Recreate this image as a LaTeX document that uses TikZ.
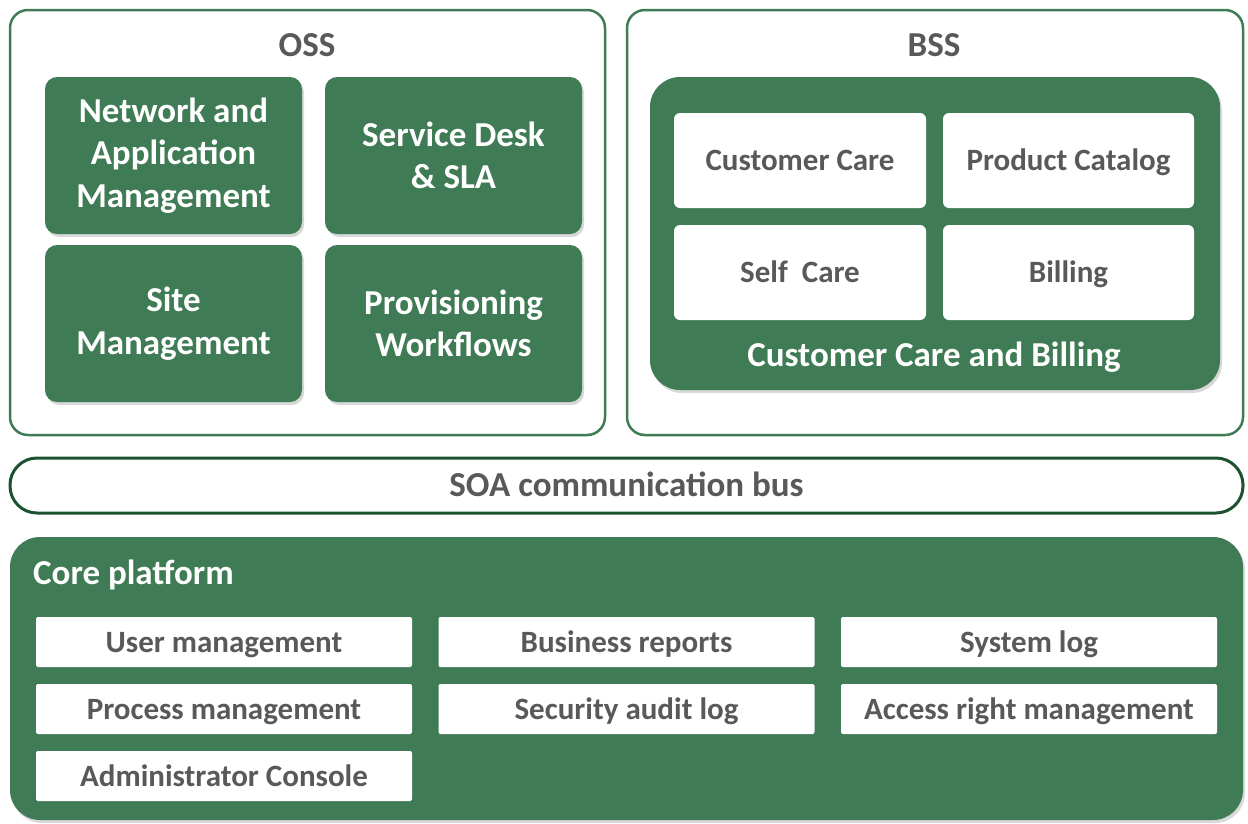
\documentclass[tikz,border=0pt]{standalone}
\usepackage{fontspec}
\setmainfont{Carlito}
\usetikzlibrary{shadows}
\definecolor{boxgreen}{RGB}{63,123,84}
\definecolor{busgreen}{RGB}{28,82,48}
\definecolor{txtgray}{RGB}{89,89,89}

\begin{document}
\begin{tikzpicture}
        [x=1pt,y=-1pt,inner sep=0pt,
         frame/.style={draw=boxgreen,line width=2.5pt,rounded corners=18pt,fill=white},
         bigtext/.style={font=\bfseries\fontsize{35}{42.5}\selectfont},
         smalltext/.style={font=\bfseries\fontsize{31}{37}\selectfont},
         bigline/.style={bigtext,text height=22.5pt,text depth=0pt},
         smallline/.style={smalltext,text height=20pt,text depth=0pt},
         greenbox/.style={fill=boxgreen,rounded corners=12pt,text=white,align=center,bigtext,
           drop shadow={opacity=0.3,shadow xshift=2pt,shadow yshift=-3pt}},
         whitebox/.style={fill=white,rounded corners=6pt,text=txtgray,smallline},
         corebox/.style={fill=white,rounded corners=2pt,text=txtgray,smallline,
           minimum width=376pt,minimum height=50pt}]
        \useasboundingbox (0,0) rectangle (1248,823);

        % the two upper frames
        \node[frame,minimum width=595pt,minimum height=425pt] (oss) at (307.5,222.5) {};
        \node[frame,minimum width=616pt,minimum height=425pt] (bss) at (935,222.5) {};
        \node[bigline,text=txtgray] (osslabel) at (307,45) {OSS};
        \node[bigline,text=txtgray] (bsslabel) at (934,45) {BSS};

        % OSS modules
        \node[greenbox,minimum width=257pt,minimum height=157pt] (netapp) at (173.5,155.5)
             {Network and\\Application\\Management};
        \node[greenbox,minimum width=257pt,minimum height=157pt] (desk) at (453.5,155.5)
             {Service Desk\\\& SLA};
        \node[greenbox,minimum width=257pt,minimum height=157pt] (site) at (173.5,323.5)
             {Site\\Management};
        \node[greenbox,minimum width=257pt,minimum height=157pt] (prov) at (453.5,323.5)
             {Provisioning\\Workflows};

        % BSS modules
        \node[greenbox,rounded corners=30pt,minimum width=570pt,minimum height=313pt] (ccb) at (935,233.5) {};
        \node[whitebox,minimum width=252pt,minimum height=95pt] (care) at (800,160.5) {Customer Care};
        \node[whitebox,minimum width=251pt,minimum height=95pt] (catalog) at (1068.5,160.5) {Product Catalog};
        \node[whitebox,minimum width=252pt,minimum height=95pt] (self) at (800,272.5) {Self\ \ Care};
        \node[whitebox,minimum width=251pt,minimum height=95pt] (billing) at (1068.5,272.5) {Billing};
        \node[bigline,text=white] (ccblabel) at (934,355) {Customer Care and Billing};

        % bus
        \node[draw=busgreen,line width=3pt,fill=white,rounded corners=27pt,
              minimum width=1233pt,minimum height=55pt,bigline,text=txtgray] (bus) at (626.5,485.5)
             {SOA communication bus};

        % core platform
        \node[fill=boxgreen,rounded corners=30pt,minimum width=1233pt,minimum height=283pt,
              drop shadow={opacity=0.3,shadow xshift=2pt,shadow yshift=-3pt}] (core) at (626.5,678.5) {};
        \node[bigline,text=white,anchor=west] (corelabel) at (33,573) {Core platform};
        \node[corebox] (users) at (224,642) {User management};
        \node[corebox] (reports) at (626.5,642) {Business reports};
        \node[corebox] (syslog) at (1029,642) {System log};
        \node[corebox] (process) at (224,709) {Process management};
        \node[corebox] (audit) at (626.5,709) {Security audit log};
        \node[corebox] (access) at (1029,709) {Access right management};
        \node[corebox] (admin) at (224,776) {Administrator Console};
\end{tikzpicture}
\end{document}
